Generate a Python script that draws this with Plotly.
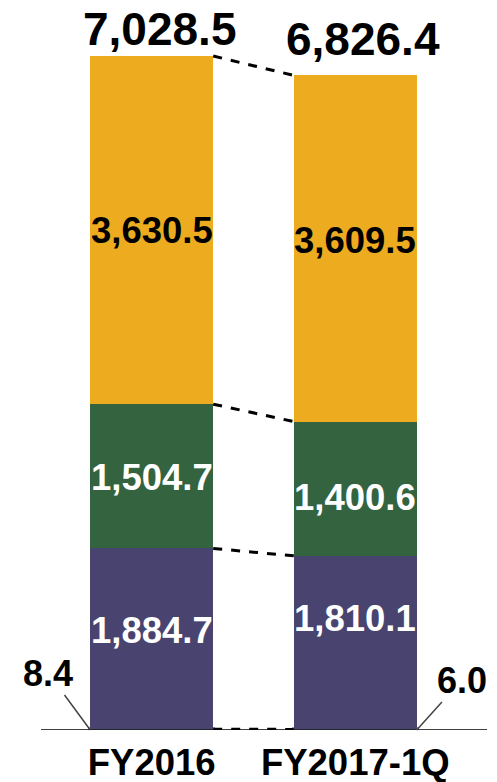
import plotly.graph_objects as go

categories = ["FY2016", "FY2017-1Q"]
seg_names = ["Other", "Purple", "Green", "Orange"]
other = [8.4, 6.0]
purple = [1884.7, 1810.1]
green = [1504.7, 1400.6]
orange = [3630.5, 3609.5]
totals = [7028.5, 6826.4]

series = [other, purple, green, orange]
colors = ["#7F9FAA", "#48436F", "#33633F", "#EDAC20"]
label_colors = [None, "white", "white", "black"]
# vertical pixel nudges of the in-bar labels (styling, as in the original slide)
label_shift = {1: [8, 24], 2: [-1.5, -8.5], 3: [0, 8]}
FONT = "Liberation Sans, Arial, sans-serif"
BAR_W = 0.604

fig = go.Figure()
for name, vals, col in zip(seg_names, series, colors):
    fig.add_trace(go.Bar(
        x=[0, 1], y=vals, name=name, width=BAR_W,
        marker=dict(color=col, line=dict(width=0)),
        hoverinfo="skip",
    ))
# make the tiny bottom segment visible
fig.data[0].marker.line = dict(color=colors[0], width=4)

fig.update_layout(
    template="none",
    barmode="stack",
    width=497, height=782,
    margin=dict(l=50, r=40, t=30, b=52, autoexpand=False),
    plot_bgcolor="white", paper_bgcolor="white",
    showlegend=False,
    xaxis=dict(range=[-0.5, 1.5], tickmode="array", tickvals=[0, 1],
               ticktext=categories, showgrid=False, zeroline=False,
               showline=False, ticks="", automargin=False,
               ticklabelstandoff=7,
               tickfont=dict(family=FONT, size=36.5, color="black", weight="bold")),
    yaxis=dict(range=[0, 7300], visible=False, automargin=False),
)

annotations = []
# segment labels
for si in (1, 2, 3):
    for ci in range(2):
        base = sum(series[k][ci] for k in range(si))
        mid = base + series[si][ci] / 2
        annotations.append(dict(
            x=ci, y=mid, xref="x", yref="y", text=f"{series[si][ci]:,.1f}",
            showarrow=False, yshift=label_shift[si][ci],
            font=dict(family=FONT, size=36.5, color=label_colors[si], weight="bold")))
# totals
for ci, ys in zip(range(2), (-1, 8)):
    annotations.append(dict(
        x=ci + 0.04, y=totals[ci], xref="x", yref="y", text=f"{totals[ci]:,.1f}",
        showarrow=False, yanchor="bottom", yshift=ys,
        font=dict(family=FONT, size=46, color="black", weight="bold")))
# small segment labels with leader lines
annotations.append(dict(
    x=-BAR_W / 2, y=0, xref="x", yref="y",
    text=f"{other[0]:,.1f}", showarrow=True, arrowhead=0, arrowwidth=1.5,
    ax=-42, ay=-57, standoff=0,
    font=dict(family=FONT, size=36, color="black", weight="bold")))
annotations.append(dict(
    x=1 + BAR_W / 2, y=0, xref="x", yref="y",
    text=f"{other[1]:,.1f}", showarrow=True, arrowhead=0, arrowwidth=1.5,
    ax=45, ay=-50, standoff=0,
    font=dict(family=FONT, size=36, color="black", weight="bold")))
fig.update_layout(annotations=annotations)

shapes = []
# connector dashed lines between cumulative boundaries
for k in range(4):
    c0 = sum(series[j][0] for j in range(k + 1))
    c1 = sum(series[j][1] for j in range(k + 1))
    shapes.append(dict(type="line", xref="x", yref="y",
                       x0=BAR_W / 2, x1=1 - BAR_W / 2, y0=c0, y1=c1,
                       line=dict(color="black", width=3, dash="dash")))
# baseline
shapes.append(dict(type="line", xref="paper", yref="y", x0=-0.022, x1=1.074,
                   y0=0, y1=0, line=dict(color="black", width=1.5)))
fig.update_layout(shapes=shapes)

fig.write_html("out.html", config={"displayModeBar": False},
               post_script="document.body.style.margin='0';document.body.style.overflow='hidden';")
